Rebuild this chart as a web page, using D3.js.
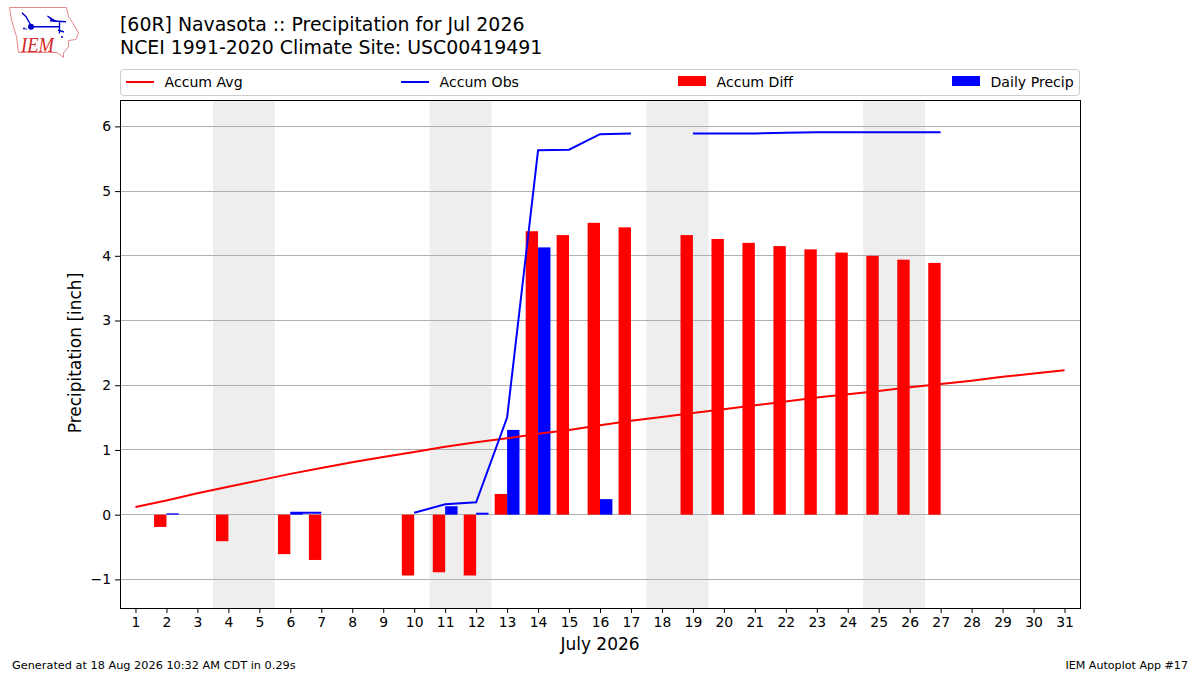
<!DOCTYPE html>
<html>
<head>
<meta charset="utf-8">
<script src="https://cdn.jsdelivr.net/npm/d3@7"></script>
<style>
  html, body { margin: 0; padding: 0; background: #fff; }
  text { font-family: "DejaVu Sans", sans-serif; fill: #000; }
</style>
</head>
<body>
<svg id="chart" width="1200" height="675"></svg>
<script>
const days = d3.range(1, 32)
const accum_avg = [0.12, 0.22, 0.33, 0.43, 0.53, 0.63, 0.72, 0.81, 0.89, 0.97, 1.05, 1.12, 1.18, 1.25, 1.31, 1.38,
  1.45, 1.51, 1.57, 1.63, 1.69, 1.75, 1.81, 1.86, 1.91, 1.97, 2.02, 2.07, 2.13, 2.18, 2.23]
const accum_obs = [null, 0.03, null, 0.02, null, 0.03, 0.03, null, null, 0.03, 0.16, 0.19, 1.5, 5.63, 5.64, 5.88,
  5.89, null, 5.89, 5.89, 5.89, 5.9, 5.91, 5.91, 5.91, 5.91, 5.91, null, null, null, null]
const accum_diff = [null, -0.19, null, -0.41, null, -0.61, -0.7, null, null, -0.94, -0.89, -0.94, 0.32, 4.38, 4.32, 4.51,
  4.44, null, 4.32, 4.26, 4.2, 4.15, 4.1, 4.05, 4.0, 3.94, 3.89, null, null, null, null]
const daily_precip = [null, 0.02, null, 0, null, 0.03, 0, null, null, 0, 0.13, 0.03, 1.31, 4.13, 0, 0.24,
  0, null, 0, 0, 0, 0, 0, 0, 0, 0, 0, null, null, null, null]
const weekends = [[3.5, 5.5], [10.5, 12.5], [17.5, 19.5], [24.5, 26.5]]
const y_ticks = [-1, 0, 1, 2, 3, 4, 5, 6]
const legend_items = [
  { label: 'Accum Avg', color: '#ff0000', kind: 'line', x: 126 },
  { label: 'Accum Obs', color: '#0000ff', kind: 'line', x: 401 },
  { label: 'Accum Diff', color: '#ff0000', kind: 'bar', x: 678 },
  { label: 'Daily Precip', color: '#0000ff', kind: 'bar', x: 952 }
]

const left = 120, right = 1080, top_y = 100, bottom = 608
const bar_w = 0.4

const svg = d3.select('#chart')
const x = d3.scaleLinear().domain([0.5, 31.5]).range([left, right])
const y = d3.scaleLinear().domain([-1.45, 6.4]).range([bottom + 0.5, top_y + 0.5])

// weekend bands
svg.append('g').selectAll('rect').data(weekends).join('rect')
  .attr('x', d => x(d[0]))
  .attr('width', d => x(d[1]) - x(d[0]))
  .attr('y', top_y)
  .attr('height', bottom - top_y)
  .attr('fill', '#eeeeee')

// grid
svg.append('g').selectAll('line').data(y_ticks).join('line')
  .attr('x1', left)
  .attr('x2', right)
  .attr('y1', d => Math.floor(y(d)) + 0.5)
  .attr('y2', d => Math.floor(y(d)) + 0.5)
  .attr('stroke', '#b0b0b0')
  .attr('stroke-width', 1)

function gen_bars(values, offset, color) {
  svg.append('g').selectAll('rect')
    .data(days.map((d, i) => [d, values[i]]).filter(d => d[1] != null && d[1] != 0))
    .join('rect')
    .attr('x', d => x(d[0] + offset))
    .attr('width', x(bar_w) - x(0))
    .attr('y', d => y(Math.max(0, d[1])))
    .attr('height', d => Math.abs(y(d[1]) - y(0)))
    .attr('fill', color)
}
gen_bars(accum_diff, -bar_w, '#ff0000')
gen_bars(daily_precip, 0, '#0000ff')

function gen_line(values, color) {
  const line = d3.line()
    .defined(d => d[1] != null)
    .x(d => x(d[0]))
    .y(d => y(d[1]))
  svg.append('path')
    .datum(days.map((d, i) => [d, values[i]]))
    .attr('d', line)
    .attr('fill', 'none')
    .attr('stroke', color)
    .attr('stroke-width', 2)
}
gen_line(accum_avg, '#ff0000')
gen_line(accum_obs, '#0000ff')

// frame and axes
svg.append('rect')
  .attr('x', left + 0.5).attr('y', top_y + 0.5)
  .attr('width', right - left).attr('height', bottom - top_y)
  .attr('fill', 'none').attr('stroke', '#000').attr('stroke-width', 1)

const x_axis = svg.append('g')
  .attr('transform', `translate(0,${bottom})`)
  .call(d3.axisBottom(x).tickValues(days).tickFormat(d3.format('d')).tickSize(5).tickPadding(4))
const y_axis = svg.append('g')
  .attr('transform', `translate(${left},0)`)
  .call(d3.axisLeft(y).tickValues(y_ticks).tickFormat(d => d < 0 ? '\u2212' + Math.abs(d) : d).tickSize(5).tickPadding(4))
x_axis.select('.domain').remove()
y_axis.select('.domain').remove()
svg.selectAll('.tick text').attr('font-size', 13.9).attr('font-family', '"DejaVu Sans"')

// titles
svg.append('text').attr('x', 120).attr('y', 31).attr('font-size', 18.9).text('[60R] Navasota :: Precipitation for Jul 2026')
svg.append('text').attr('x', 120).attr('y', 54).attr('font-size', 18.9).text('NCEI 1991-2020 Climate Site: USC00419491')
svg.append('text').attr('x', 600).attr('y', 650).attr('text-anchor', 'middle').attr('font-size', 17).text('July 2026')
svg.append('text').attr('transform', 'translate(81,353) rotate(-90)').attr('text-anchor', 'middle').attr('font-size', 17).text('Precipitation [inch]')
svg.append('text').attr('x', 12).attr('y', 669).attr('font-size', 11.3).text('Generated at 18 Aug 2026 10:32 AM CDT in 0.29s')
svg.append('text').attr('x', 1188).attr('y', 669).attr('text-anchor', 'end').attr('font-size', 11.1).text('IEM Autoplot App #17')

// legend
svg.append('rect')
  .attr('x', 120.5).attr('y', 69.5).attr('width', 959).attr('height', 26).attr('rx', 3)
  .attr('fill', '#fff').attr('stroke', '#cccccc')
const legend = svg.append('g').selectAll('g').data(legend_items).join('g')
  .attr('transform', d => `translate(${d.x},82)`)
legend.filter(d => d.kind == 'line').append('line')
  .attr('x1', 0).attr('x2', 28).attr('y1', 0).attr('y2', 0)
  .attr('stroke', d => d.color).attr('stroke-width', 2)
legend.filter(d => d.kind == 'bar').append('rect')
  .attr('x', 0).attr('y', -6).attr('width', 28).attr('height', 10)
  .attr('fill', d => d.color)
legend.append('text').attr('x', 38.5).attr('y', 4.5).attr('font-size', 14.1).text(d => d.label)

// IEM logo
const logo = svg.append('g')
logo.append('path')
  .attr('d', 'M9.5 7.5 L66.5 7.5 L68.5 16.5 L74 25 L78.5 33 L76 39.5 L68.5 40.5 L68.5 46.5 L63.5 53 L63.5 57.5 L57 52.5 L18.5 52.5 L16.5 36.5 L11.5 20 Z')
  .attr('fill', 'none').attr('stroke', '#e88a8a').attr('stroke-width', 1)
logo.append('path')
  .attr('d', 'M31 26.7 L59 26.7 M50 20.7 L66 21.7 M59.5 21 L59.5 33.5 M58 30 L64 32 M22 12.7 L26 16.7 L31 25.5')
  .attr('fill', 'none').attr('stroke', '#0000cc').attr('stroke-width', 1.4)
logo.append('path').attr('d', 'M47.5 16 L57 21.7 L52 20.7 Z').attr('fill', '#0000cc').attr('stroke', '#0000cc')
logo.append('circle').attr('cx', 31).attr('cy', 26.7).attr('r', 3).attr('fill', '#0000cc')
logo.append('circle').attr('cx', 24).attr('cy', 28.5).attr('r', 1).attr('fill', '#0000cc')
logo.append('circle').attr('cx', 26).attr('cy', 29).attr('r', 0.8).attr('fill', '#0000cc')
logo.append('circle').attr('cx', 62).attr('cy', 37).attr('r', 1).attr('fill', '#0000cc')
logo.append('text').attr('x', 21).attr('y', 52)
  .attr('font-size', 21).attr('textLength', 33).attr('lengthAdjust', 'spacingAndGlyphs')
  .style('font-family', '"Liberation Serif"').style('font-style', 'italic').style('fill', '#d62828').text('IEM')
</script>
</body>
</html>
